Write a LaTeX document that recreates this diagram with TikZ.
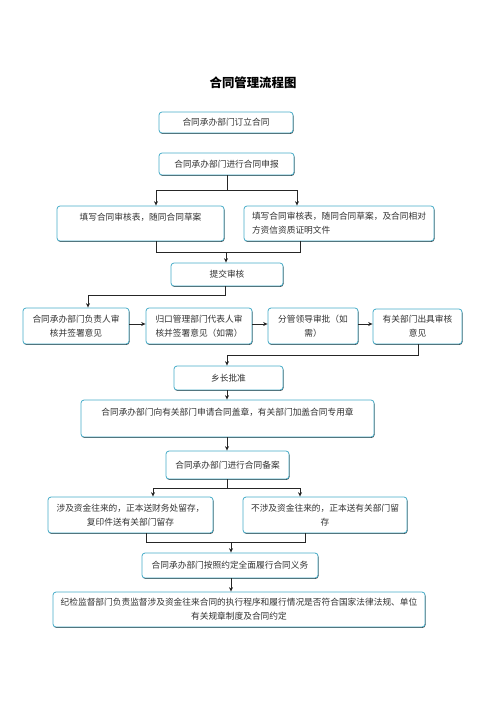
\documentclass[tikz,border=0pt]{standalone}
\usepackage{fontspec}
\newfontfamily\cjk{Noto Sans CJK SC}
\usetikzlibrary{shadows,arrows.meta}
\definecolor{boxc}{RGB}{70,172,200}
\definecolor{txtc}{RGB}{50,50,50}
\tikzset{
  box/.style={draw=boxc, line width=0.8pt, rounded corners=3pt, fill=white,
    drop shadow={shadow xshift=0.5pt, shadow yshift=-0.9pt, fill=black!75, opacity=1},
    text=txtc, align=center, inner sep=2pt,
    font=\cjk\fontsize{8.7pt}{14pt}\selectfont},
  conn/.style={draw=black!85, line width=0.8pt},
  arr/.style={conn, -{Stealth[length=4.5pt,width=4pt]}}
}
\begin{document}
\begin{tikzpicture}[x=1pt,y=-1pt]
\useasboundingbox (0,0) rectangle (496,702);
\node[font=\cjk\bfseries\fontsize{12.4pt}{14pt}\selectfont, text=black] (title) at (253,83) {合同管理流程图};

\node[box, minimum width=134pt, minimum height=21pt] (b1) at (226,122.5) {合同承办部门订立合同};
\node[box, minimum width=135pt, minimum height=22pt] (b2) at (226.5,164) {合同承办部门进行合同申报};
\node[box, minimum width=167pt, minimum height=35pt] (b3) at (140.5,223.5) {填写合同审核表，随同合同草案\\ \mbox{}};
\node[box, minimum width=190pt, minimum height=35pt, text width=174pt, inner xsep=8pt, align=left] (b4) at (339,223.5) {填写合同审核表，随同合同草案，及合同相对\\方资信资质证明文件};
\node[box, minimum width=112pt, minimum height=23pt] (b5) at (227,274.5) {提交审核};
\node[box, minimum width=106pt, minimum height=36pt] (b6) at (76,326) {合同承办部门负责人审\\核并签署意见};
\node[box, minimum width=106pt, minimum height=36pt] (b7) at (199,326) {归口管理部门代表人审\\核并签署意见（如需）};
\node[box, minimum width=90pt, minimum height=36pt] (b8) at (313,326) {分管领导审批（如\\需）};
\node[box, minimum width=89pt, minimum height=35pt] (b9) at (417.5,326.5) {有关部门出具审核\\意见};
\node[box, minimum width=109pt, minimum height=24pt] (b10) at (228.5,378) {乡长批准};
\node[box, minimum width=293pt, minimum height=37pt] (b11) at (227.5,418.5) {合同承办部门向有关部门申请合同盖章，有关部门加盖合同专用章\\ \mbox{}};
\node[box, minimum width=123pt, minimum height=28pt] (b12) at (227.5,465) {合同承办部门进行合同备案};
\node[box, minimum width=165pt, minimum height=36pt] (b13) at (130.5,515) {涉及资金往来的，正本送财务处留存，\\复印件送有关部门留存};
\node[box, minimum width=164pt, minimum height=36pt] (b14) at (325,515) {不涉及资金往来的，正本送有关部门留\\存};
\node[box, minimum width=176pt, minimum height=25pt] (b15) at (230,565.5) {合同承办部门按照约定全面履行合同义务};
\node[box, minimum width=372pt, minimum height=35pt] (b16) at (239,609.5) {纪检监督部门负责监督涉及资金往来合同的执行程序和履行情况是否符合国家法律法规、单位\\有关规章制度及合同约定};

% b2 -> b3, b4
\coordinate (j1) at (227,190);
\coordinate (j1l) at (156,190);
\coordinate (j1r) at (297,190);
\draw[conn] (j1 |- b2.south) -- (j1);
\draw[conn] (j1l) -- (j1r);
\draw[arr] (j1l) -- (j1l |- b3.north);
\draw[arr] (j1r) -- (j1r |- b4.north);

% b3, b4 -> b5
\coordinate (j2l) at (156,252);
\coordinate (j2r) at (300,252);
\coordinate (j2) at (226,252);
\draw[conn] (j2l |- b3.south) -- (j2l) -- (j2r) -- (j2r |- b4.south);
\draw[arr] (j2) -- (j2 |- b5.north);

% b5 -> b6
\coordinate (j3) at (225,295);
\coordinate (j3l) at (88,295);
\draw[conn] (j3 |- b5.south) -- (j3) -- (j3l);
\draw[arr] (j3l) -- (j3l |- b6.north);

% row
\draw[arr] ([yshift=2pt]b6.east) -- ([yshift=2pt]b6.east -| b7.west);
\draw[arr] ([yshift=2pt]b7.east) -- ([yshift=2pt]b7.east -| b8.west);
\draw[arr] ([yshift=2pt]b8.east) -- ([yshift=2pt]b8.east -| b9.west);

% b9 -> b10
\coordinate (j4) at (418,355);
\coordinate (j4l) at (227,355);
\draw[conn] (j4 |- b9.south) -- (j4) -- (j4l);
\draw[arr] (j4l) -- (j4l |- b10.north);

% chain
\coordinate (c5) at (227,0);
\draw[arr] (c5 |- b10.south) -- (c5 |- b11.north);
\draw[arr] (c5 |- b11.south) -- (c5 |- b12.north);

% b12 -> b13, b14
\coordinate (j6) at (227,488);
\coordinate (j6l) at (153,488);
\coordinate (j6r) at (300,488);
\draw[conn] (j6 |- b12.south) -- (j6);
\draw[conn] (j6l) -- (j6r);
\draw[arr] (j6l) -- (j6l |- b13.north);
\draw[arr] (j6r) -- (j6r |- b14.north);

% b13, b14 -> b15
\coordinate (j7l) at (146,542);
\coordinate (j7r) at (305,542);
\coordinate (j7) at (231,542);
\draw[conn] (j7l |- b13.south) -- (j7l) -- (j7r) -- (j7r |- b14.south);
\draw[arr] (j7) -- (j7 |- b15.north);

% b15 -> b16
\draw[arr] (j7 |- b15.south) -- (j7 |- b16.north);
\end{tikzpicture}
\end{document}
